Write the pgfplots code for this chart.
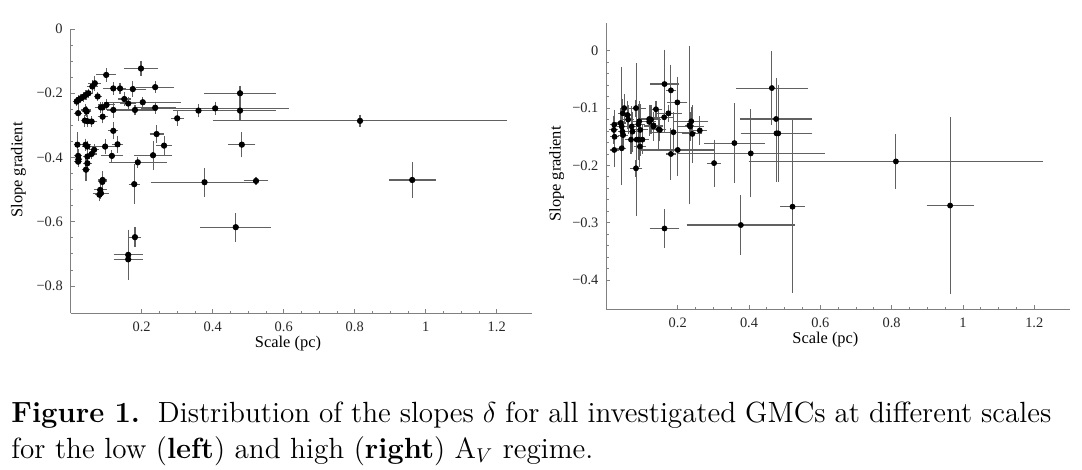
\documentclass[border=0pt]{standalone}
\usepackage{fontspec}
\usepackage{pgfplots}
\pgfplotsset{compat=1.18}
\usepackage{pgfplotstable}
\newfontfamily\tnr{Liberation Serif}

\pgfplotstableread{
x y ex ey
0.198 -0.123 0.040 0.015
0.100 -0.143 0.020 0.012
0.068 -0.169 0.010 0.015
0.061 -0.179 0.008 0.010
0.120 -0.185 0.020 0.012
0.139 -0.185 0.008 0.008
0.175 -0.187 0.030 0.015
0.238 -0.181 0.045 0.009
0.477 -0.200 0.093 0.015
0.050 -0.200 0.005 0.006
0.043 -0.205 0.005 0.006
0.036 -0.211 0.005 0.006
0.028 -0.216 0.005 0.006
0.021 -0.221 0.004 0.006
0.017 -0.226 0.004 0.006
0.076 -0.210 0.003 0.004
0.151 -0.218 0.010 0.012
0.203 -0.228 0.100 0.008
0.162 -0.232 0.015 0.012
0.101 -0.236 0.015 0.008
0.085 -0.244 0.010 0.008
0.090 -0.244 0.008 0.008
0.120 -0.252 0.010 0.016
0.181 -0.252 0.055 0.006
0.238 -0.245 0.050 0.010
0.360 -0.254 0.063 0.012
0.407 -0.247 0.200 0.012
0.477 -0.254 0.093 0.020
0.300 -0.278 0.010 0.015
0.482 -0.360 0.030 0.031
0.815 -0.286 0.405 0.010
0.021 -0.262 0.004 0.016
0.042 -0.252 0.006 0.010
0.045 -0.257 0.005 0.008
0.040 -0.285 0.004 0.010
0.047 -0.287 0.005 0.010
0.059 -0.288 0.008 0.008
0.090 -0.273 0.006 0.012
0.120 -0.317 0.006 0.018
0.242 -0.327 0.012 0.018
0.263 -0.363 0.015 0.020
0.132 -0.359 0.008 0.018
0.097 -0.366 0.035 0.014
0.066 -0.376 0.006 0.008
0.059 -0.389 0.006 0.008
0.042 -0.360 0.006 0.010
0.047 -0.366 0.008 0.010
0.019 -0.360 0.003 0.030
0.021 -0.395 0.003 0.012
0.022 -0.405 0.003 0.010
0.021 -0.413 0.003 0.008
0.047 -0.397 0.004 0.012
0.047 -0.418 0.004 0.012
0.043 -0.438 0.004 0.028
0.116 -0.395 0.024 0.010
0.232 -0.393 0.045 0.037
0.189 -0.415 0.073 0.008
0.090 -0.470 0.005 0.018
0.089 -0.476 0.005 0.010
0.083 -0.501 0.010 0.010
0.085 -0.511 0.015 0.010
0.081 -0.516 0.006 0.012
0.179 -0.483 0.008 0.053
0.377 -0.477 0.144 0.036
0.522 -0.473 0.027 0.005
0.962 -0.470 0.058 0.046
0.465 -0.617 0.092 0.036
0.181 -0.648 0.010 0.022
0.162 -0.703 0.033 0.070
0.162 -0.717 0.033 0.025
}\lowtab

\pgfplotstableread{
x y ex ey
0.464 -0.065 0.093 0.060
0.476 -0.119 0.093 0.067
0.477 -0.144 0.093 0.080
0.482 -0.144 0.030 0.080
0.405 -0.179 0.200 0.072
0.812 -0.193 0.405 0.043
0.964 -0.270 0.058 0.149
0.522 -0.272 0.026 0.146
0.377 -0.304 0.144 0.047
0.163 -0.310 0.034 0.029
0.302 -0.196 0.012 0.036
0.359 -0.161 0.078 0.065
0.233 -0.130 0.005 0.133
0.238 -0.123 0.040 0.020
0.235 -0.132 0.030 0.020
0.241 -0.145 0.020 0.045
0.262 -0.139 0.012 0.020
0.188 -0.142 0.055 0.030
0.199 -0.090 0.020 0.040
0.181 -0.069 0.005 0.040
0.163 -0.058 0.034 0.055
0.162 -0.116 0.020 0.020
0.174 -0.109 0.030 0.010
0.147 -0.137 0.010 0.030
0.139 -0.102 0.010 0.010
0.132 -0.130 0.020 0.010
0.120 -0.119 0.020 0.020
0.150 -0.138 0.010 0.015
0.200 -0.173 0.095 0.040
0.181 -0.180 0.005 0.040
0.083 -0.100 0.020 0.010
0.083 -0.205 0.010 0.010
0.085 -0.155 0.005 0.128
0.022 -0.129 0.005 0.020
0.021 -0.138 0.005 0.020
0.023 -0.150 0.005 0.025
0.022 -0.173 0.005 0.025
0.040 -0.126 0.006 0.020
0.043 -0.132 0.006 0.098
0.045 -0.141 0.006 0.020
0.047 -0.147 0.006 0.020
0.043 -0.170 0.005 0.050
0.046 -0.109 0.005 0.020
0.061 -0.120 0.008 0.020
0.059 -0.112 0.008 0.020
0.071 -0.132 0.010 0.030
0.073 -0.141 0.010 0.030
0.069 -0.155 0.010 0.020
0.090 -0.128 0.010 0.030
0.092 -0.123 0.010 0.030
0.095 -0.138 0.015 0.040
0.090 -0.155 0.010 0.030
0.094 -0.167 0.010 0.030
0.101 -0.155 0.010 0.020
0.120 -0.124 0.010 0.020
0.125 -0.120 0.020 0.020
0.132 -0.132 0.020 0.020
0.050 -0.100 0.005 0.020
}\hightab

\pgfplotsset{gmc/.style={
  scale only axis,
  axis lines=left,
  axis line style={-, black!50, line width=0.5pt},
  xmin=0, xmax=1.3,
  tick align=inside,
  major tick length=2pt, minor tick length=1.2pt,
  every tick/.style={black!50, line width=0.4pt},
  xtick={0.2,0.4,0.6,0.8,1,1.2},
  xticklabels={0.2,0.4,0.6,0.8,1,1.2},
  minor x tick num=3,
  tick label style={font=\tnr\fontsize{7.2}{8}\selectfont, text=black!85},
  xticklabel style={inner sep=0pt, anchor=north, yshift=-4.3pt},
  yticklabel style={inner sep=0pt, anchor=east, xshift=-3.8pt},
  clip=false,
}}

\begin{document}
\begin{tikzpicture}
\useasboundingbox (0,0) rectangle (541pt,235pt);

\begin{axis}[gmc,
  at={(35.35pt,78.35pt)}, anchor=south west,
  width=230.75pt, height=142.15pt,
  ymin=-0.885, ymax=0,
  ytick={0,-0.2,-0.4,-0.6,-0.8},
  yticklabels={0,−0.2,−0.4,−0.6,−0.8},
  minor y tick num=3]
\addplot[only marks, mark=*, mark size=1.35pt, black,
  error bars/.cd, x dir=both, x explicit, y dir=both, y explicit,
  error bar style={black!62, line width=0.55pt},
  error mark options={black!62, mark size=1.4pt, line width=0.55pt}]
  table[x=x, y=y, x error=ex, y error=ey]{\lowtab};
\end{axis}

\begin{axis}[gmc,
  at={(303.2pt,80.35pt)}, anchor=south west,
  width=231.75pt, height=143pt,
  ymin=-0.451, ymax=0.048,
  ytick={0,-0.1,-0.2,-0.3,-0.4},
  yticklabels={0,−0.1,−0.2,−0.3,−0.4},
  minor y tick num=4]
\addplot[only marks, mark=*, mark size=1.25pt, black,
  error bars/.cd, x dir=both, x explicit, y dir=both, y explicit,
  error bar style={black!62, line width=0.55pt},
  error mark options={black!62, mark size=1.4pt, line width=0.55pt}]
  table[x=x, y=y, x error=ex, y error=ey]{\hightab};
\end{axis}

\node[anchor=base, inner sep=0pt, font=\tnr\fontsize{8.2}{9}\selectfont] at (144pt,61.25pt) {Scale (pc)};
\node[anchor=base, inner sep=0pt, font=\tnr\fontsize{8.2}{9}\selectfont] at (412.7pt,63.35pt) {Scale (pc)};
\node[anchor=base, rotate=90, inner sep=0pt, font=\tnr\fontsize{8.2}{9}\selectfont] at (11.2pt,150pt) {Slope gradient};
\node[anchor=base, rotate=90, inner sep=0pt, font=\tnr\fontsize{8.2}{9}\selectfont] at (280.3pt,148pt) {Slope gradient};

\node[anchor=base west, inner sep=0pt] at (5.5pt,23.85pt) {\parbox[t]{520pt}{\fontsize{14.6}{18}\selectfont
\textbf{Figure 1.}\ \ Distribution of the slopes $\delta$ for all investigated GMCs at different scales\linebreak
for the low (\textbf{left}) and high (\textbf{right}) A$_V$ regime.}};
\end{tikzpicture}
\end{document}
